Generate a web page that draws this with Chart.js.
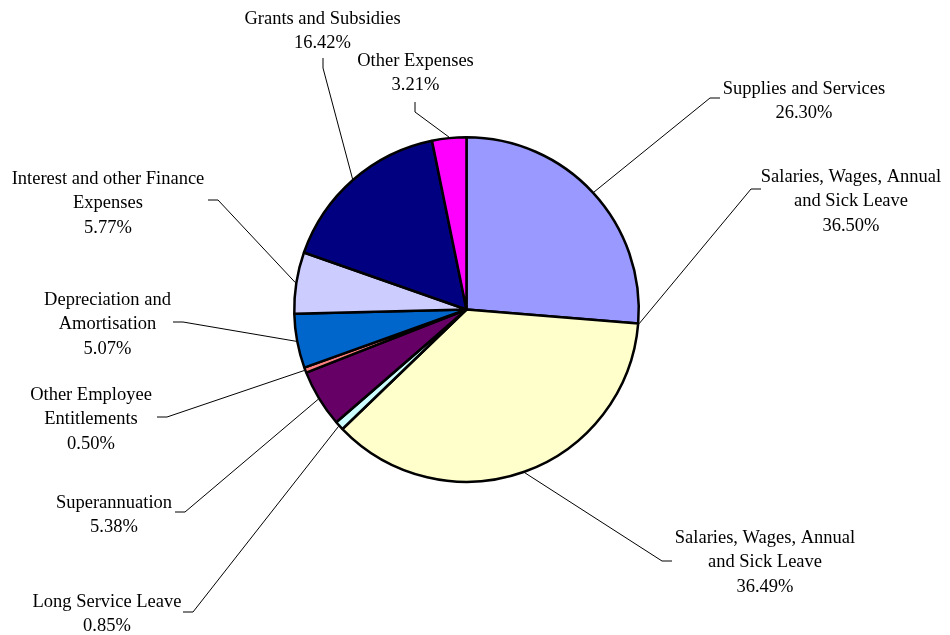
<!DOCTYPE html>
<html>
<head>
<meta charset="utf-8">
<script src="https://cdn.jsdelivr.net/npm/chart.js@4.4.0/dist/chart.umd.min.js"></script>
<style>
  body { margin: 0; background: #fff; }
  #wrap { width: 950px; height: 635px; position: relative; }
</style>
</head>
<body>
<div id="wrap"><canvas id="chartBelanja"></canvas></div>
<script>
// Kategori biaya (urutan searah jarum jam dari atas)
const categories = [
    'Supplies and Services',
    ['Salaries, Wages, Annual', 'and Sick Leave'],
    ['Salaries, Wages, Annual', 'and Sick Leave'],
    'Long Service Leave',
    'Superannuation',
    ['Other Employee', 'Entitlements'],
    ['Depreciation and', 'Amortisation'],
    ['Interest and other Finance', 'Expenses'],
    'Grants and Subsidies',
    'Other Expenses'
];

// Nilai tiap irisan (persen)
const values = [26.30, 0, 36.49, 0.85, 5.38, 0.50, 5.07, 5.77, 16.42, 3.21];

// Teks persen yang tertulis di label
const percentText = ['26.30%', '36.50%', '36.49%', '0.85%', '5.38%', '0.50%', '5.07%', '5.77%', '16.42%', '3.21%'];

const colors = ['#9999FF', '#993366', '#FFFFCC', '#CCFFFF', '#660066', '#FF8080', '#0066CC', '#CCCCFF', '#000080', '#FF00FF'];

// Posisi label relatif ke pusat pie: tx,ty = tengah teks baris pertama, ex,ey = ujung garis, dir = arah kait
const labelLayout = [
    { tx: 337.5, ty: -220.5, ex: 253.5, ey: -211.5, dir: 'r' },
    { tx: 384.5, ty: -132.5, ex: 294.5, ey: -120.5, dir: 'r' },
    { tx: 298.5, ty: 228.5, ex: 205.5, ey: 251.5, dir: 'r' },
    { tx: -359.5, ty: 292.5, ex: -283.5, ey: 302.5, dir: 'l' },
    { tx: -352.5, ty: 193.5, ex: -291.5, ey: 202.5, dir: 'l' },
    { tx: -375.5, ty: 85.5, ex: -309.5, ey: 107.5, dir: 'l' },
    { tx: -359, ty: -9.5, ex: -293.5, ey: 12.5, dir: 'l' },
    { tx: -358.5, ty: -130.5, ex: -258.5, ey: -109.5, dir: 'l' },
    { tx: -144, ty: -290.5, ex: -143.5, ey: -251.5, dir: 'u' },
    { tx: -51, ty: -248.5, ex: -51.5, ey: -207.5, dir: 'u' }
];

// Plugin label dengan garis penunjuk
const leaderLabels = {
    id: 'leaderLabels',
    afterDatasetsDraw(chart) {
        const c = chart.ctx;
        const meta = chart.getDatasetMeta(0);
        c.save();
        c.font = '18.5px "Liberation Serif", "Times New Roman", serif';
        c.textAlign = 'center';
        c.textBaseline = 'middle';
        c.fillStyle = '#000';
        c.strokeStyle = '#000';
        c.lineWidth = 1;
        meta.data.forEach((arc, i) => {
            const p = arc.getProps(['x', 'y', 'startAngle', 'endAngle', 'outerRadius'], true);
            const mid = (p.startAngle + p.endAngle) / 2;
            const sx = p.x + Math.cos(mid) * (p.outerRadius + 1);
            const sy = p.y + Math.sin(mid) * (p.outerRadius + 1);
            const L = labelLayout[i];
            const ex = p.x + L.ex, ey = p.y + L.ey;
            let kx = ex, ky = ey;
            if (L.dir === 'r') kx = ex - 10;
            else if (L.dir === 'l') kx = ex + 10;
            else ky = ey + 10;
            c.beginPath();
            c.moveTo(sx, sy);
            c.lineTo(kx, ky);
            c.lineTo(ex, ey);
            c.stroke();

            const name = categories[i];
            const lines = (Array.isArray(name) ? name : [name]).concat([percentText[i]]);
            lines.forEach((t, j) => {
                c.fillText(t, p.x + L.tx, p.y + L.ty + j * 24.5);
            });
        });
        c.restore();
    }
};

const ctx = document.getElementById('chartBelanja').getContext('2d');

new Chart(ctx, {
    type: 'pie',
    data: {
        labels: categories,
        datasets: [{
            data: values,
            backgroundColor: colors,
            borderColor: '#000',
            borderWidth: 2.5
        }]
    },
    options: {
        responsive: true,
        maintainAspectRatio: false,
        animation: false,
        layout: {
            padding: { top: 136, bottom: 152, left: 0, right: 17 }
        },
        plugins: {
            legend: { display: false },
            tooltip: { enabled: false }
        }
    },
    plugins: [leaderLabels]
});
</script>
</body>
</html>
